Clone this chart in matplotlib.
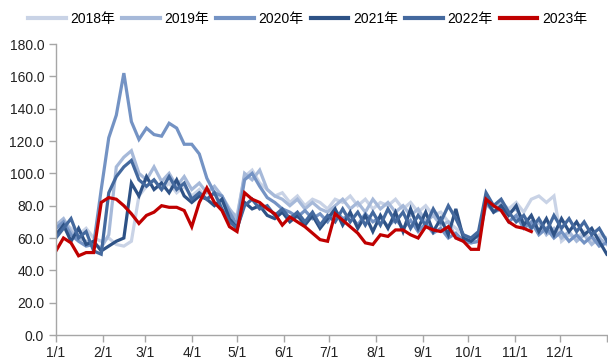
import numpy as np
import matplotlib
matplotlib.use("Agg")
import matplotlib.pyplot as plt

plt.rcParams['font.family'] = ['Liberation Sans', 'Noto Sans CJK SC', 'DejaVu Sans']

# sample days (every 5 days from Jan 1)
DAYS = list(range(0, 366, 5))

y2018 = [64, 70, 66, 62, 66, 60, 58, 60, 56, 55, 58, 86, 92, 96, 90, 94, 88, 92, 86, 90,
         84, 88, 82, 76, 74, 98, 102, 94, 90, 86, 88, 82, 86, 80, 84, 82, 78, 84, 82, 86,
         80, 84, 78, 82, 80, 84, 78, 82, 76, 80, 74, 76, 70, 66, 62, 60, 60, 80, 78, 82,
         78, 82, 76, 84, 86, 82, 86, 58, 62, 60, 64, 58, 62, 60]
y2019 = [68, 72, 64, 60, 58, 56, 54, 62, 104, 110, 114, 100, 96, 104, 95, 100, 92, 98, 90, 94,
         88, 92, 86, 78, 72, 100, 96, 102, 90, 86, 84, 80, 84, 78, 82, 78, 76, 80, 84, 78,
         82, 76, 84, 78, 82, 76, 80, 74, 78, 70, 74, 68, 70, 60, 58, 57, 58, 86, 80, 82,
         76, 78, 70, 66, 70, 62, 66, 60, 64, 58, 62, 56, 60, 56]
y2020 = [66, 70, 62, 58, 55, 56, 90, 122, 136, 162, 132, 121, 128, 124, 123, 131, 128, 118, 118, 112,
         97, 88, 86, 76, 68, 96, 100, 92, 85, 82, 78, 76, 73, 77, 72, 75, 70, 77, 72, 74,
         68, 75, 70, 73, 67, 72, 66, 71, 64, 69, 63, 66, 60, 63, 58, 57, 58, 82, 76, 78,
         70, 74, 66, 70, 62, 66, 60, 64, 58, 62, 57, 61, 55, 57]
y2021 = [62, 68, 58, 66, 56, 58, 52, 55, 58, 60, 94, 86, 98, 90, 94, 88, 96, 86, 82, 86,
         84, 80, 84, 72, 66, 82, 78, 80, 74, 72, 76, 70, 74, 68, 74, 66, 72, 78, 68, 76,
         66, 74, 64, 74, 66, 76, 64, 78, 66, 76, 64, 72, 62, 78, 60, 58, 62, 84, 76, 80,
         74, 80, 68, 74, 64, 72, 62, 72, 64, 70, 62, 66, 58, 50]
y2022 = [60, 66, 72, 60, 64, 52, 50, 88, 98, 104, 108, 96, 92, 96, 90, 98, 90, 94, 84, 88,
         84, 88, 78, 70, 66, 80, 84, 78, 80, 74, 78, 72, 76, 70, 76, 68, 74, 70, 78, 70,
         76, 68, 76, 68, 78, 70, 76, 66, 74, 68, 78, 70, 80, 72, 62, 60, 64, 88, 80, 84,
         76, 70, 74, 66, 72, 64, 74, 66, 72, 64, 70, 62, 66, 58]
y2023 = [52, 60, 57, 49, 51, 51, 82, 85, 84, 80, 75, 69, 74, 76, 80, 79, 79, 77, 67, 82,
         91, 82, 77, 67, 64, 88, 84, 82, 78, 75, 68, 73, 70, 67, 63, 59, 58, 75, 71, 67,
         63, 57, 56, 62, 61, 65, 65, 62, 60, 67, 65, 64, 67, 60, 58, 53, 53, 84, 80, 77,
         70, 67, 66, 64]

SERIES = [("2018年", y2018), ("2019年", y2019), ("2020年", y2020),
          ("2021年", y2021), ("2022年", y2022), ("2023年", y2023)]
COLORS = ['#c9d3e6', '#a6b9d9', '#7493c4', '#2e5286', '#44699e', '#c00000']

MONTH_DAYS = [0, 31, 59, 90, 120, 151, 181, 212, 243, 273, 304, 334]
MONTH_LABELS = ['1/1', '2/1', '3/1', '4/1', '5/1', '6/1', '7/1', '8/1', '9/1', '10/1', '11/1', '12/1']
Y_TICKS = [0, 20, 40, 60, 80, 100, 120, 140, 160, 180]

fig = plt.figure(figsize=(6.08, 3.61), dpi=100)
ax = fig.add_axes([0.092, 0.072, 0.906, 0.806])

for (label, vals), c in zip(SERIES, COLORS):
    ax.plot(DAYS[:len(vals)], vals, color=c, lw=2.3, label=label, solid_joinstyle='miter')

ax.set_xlim(0, 365)
ax.set_ylim(0, 180)
ax.set_xticks(MONTH_DAYS)
ax.set_xticklabels(MONTH_LABELS)
ax.set_xticks([365], minor=True)
ax.set_yticks(Y_TICKS)
ax.set_yticklabels([f"{v:.1f}" for v in Y_TICKS])

for s in ['top', 'right']:
    ax.spines[s].set_visible(False)
for s in ['left', 'bottom']:
    ax.spines[s].set_color('#a6a6a6')
    ax.spines[s].set_linewidth(1.0)
ax.tick_params(axis='both', which='both', direction='out', length=5, color='#a6a6a6',
               labelsize=10, labelcolor='#222222', width=1.0)
ax.tick_params(axis='x', pad=3)

leg = fig.legend(loc='center', bbox_to_anchor=(0.506, 0.948), ncol=6, frameon=False,
                 fontsize=10, handlelength=2.7, handletextpad=0.35, columnspacing=0.5)
for h in leg.get_lines():
    h.set_linewidth(3)

fig.savefig('out.png', dpi=100)
